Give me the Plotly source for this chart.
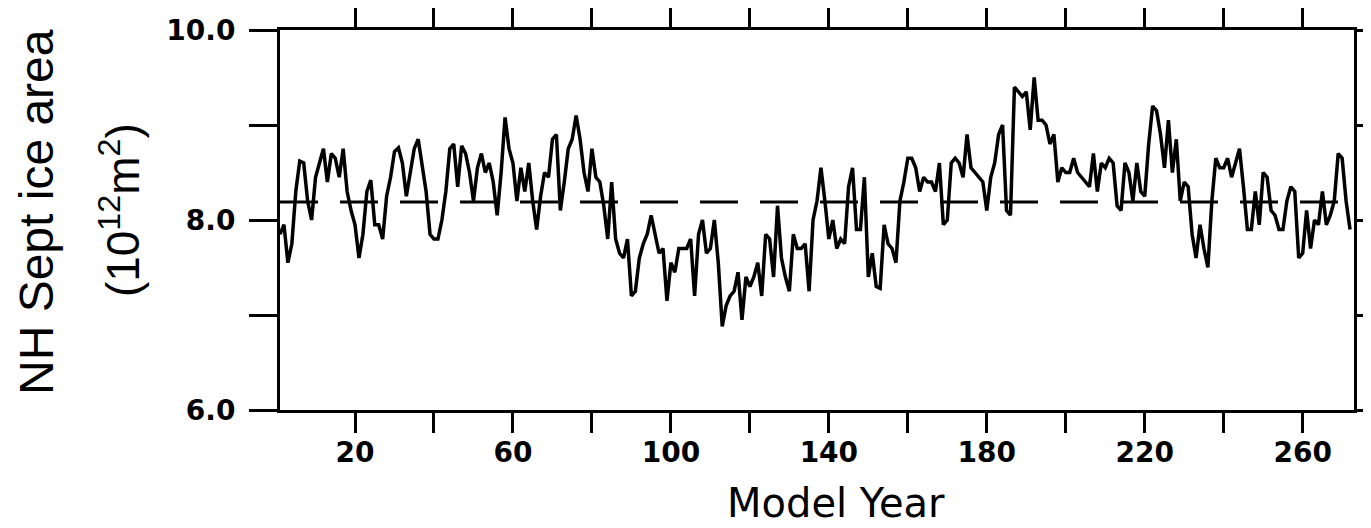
import plotly.graph_objects as go

# Model years and NH September ice area (10^12 m^2)
YEARS = list(range(1, 273))
ICE_AREA = [
    7.85, 7.95, 7.55, 7.75, 8.3, 8.62, 8.6, 8.2, 8.0, 8.45,
    8.6, 8.75, 8.4, 8.7, 8.65, 8.45, 8.75, 8.3, 8.1, 7.95,
    7.6, 7.85, 8.3, 8.42, 7.95, 7.95, 7.8, 8.25, 8.45, 8.72,
    8.76, 8.6, 8.25, 8.5, 8.75, 8.85, 8.55, 8.3, 7.85, 7.8,
    7.8, 8.0, 8.3, 8.75, 8.8, 8.35, 8.78, 8.7, 8.5, 8.2,
    8.55, 8.7, 8.5, 8.6, 8.4, 8.05, 8.5, 9.08, 8.75, 8.6,
    8.2, 8.55, 8.3, 8.6, 8.2, 7.9, 8.25, 8.5, 8.45, 8.85,
    8.9, 8.1, 8.4, 8.75, 8.85, 9.1, 8.85, 8.5, 8.3, 8.75,
    8.45, 8.4, 8.15, 7.8, 8.4, 7.8, 7.65, 7.6, 7.8, 7.2,
    7.25, 7.6, 7.75, 7.85, 8.05, 7.85, 7.65, 7.7, 7.15, 7.55,
    7.45, 7.7, 7.7, 7.7, 7.8, 7.2, 7.85, 8.0, 7.65, 7.7,
    8.0, 7.55, 6.88, 7.1, 7.2, 7.25, 7.45, 6.95, 7.4, 7.3,
    7.4, 7.55, 7.2, 7.85, 7.8, 7.4, 8.15, 7.6, 7.4, 7.25,
    7.85, 7.7, 7.7, 7.75, 7.25, 8.0, 8.2, 8.55, 8.2, 7.8,
    8.0, 7.7, 7.8, 7.75, 8.35, 8.55, 7.9, 7.9, 8.45, 7.4,
    7.65, 7.3, 7.28, 7.95, 7.75, 7.7, 7.55, 8.2, 8.4, 8.65,
    8.65, 8.55, 8.3, 8.45, 8.4, 8.4, 8.3, 8.6, 7.95, 8.0,
    8.6, 8.65, 8.6, 8.45, 8.9, 8.55, 8.5, 8.45, 8.4, 8.1,
    8.45, 8.6, 8.9, 9.0, 8.1, 8.05, 9.4, 9.35, 9.3, 9.35,
    8.95, 9.5, 9.05, 9.05, 9.0, 8.8, 8.9, 8.4, 8.55, 8.5,
    8.5, 8.65, 8.5, 8.45, 8.4, 8.35, 8.7, 8.3, 8.6, 8.55,
    8.65, 8.6, 8.15, 8.1, 8.6, 8.5, 8.2, 8.6, 8.3, 8.25,
    8.8, 9.2, 9.15, 8.9, 8.55, 9.05, 8.5, 8.85, 8.2, 8.4,
    8.35, 7.85, 7.6, 7.95, 7.7, 7.5, 8.2, 8.65, 8.55, 8.55,
    8.65, 8.45, 8.6, 8.75, 8.35, 7.9, 7.9, 8.3, 7.95, 8.5,
    8.45, 8.1, 8.05, 7.9, 7.9, 8.2, 8.35, 8.3, 7.6, 7.65,
    8.1, 7.7, 8.0, 7.95, 8.3, 7.95, 8.05, 8.2, 8.7, 8.65,
    8.2, 7.9,
]
MEAN_AREA = 8.19

X_TICKS = [20, 40, 60, 80, 100, 120, 140, 160, 180, 200, 220, 240, 260]
X_TICK_TEXT = ["20", "", "60", "", "100", "", "140", "", "180", "", "220", "", "260"]
Y_TICKS = [6, 7, 8, 9, 10]
Y_TICK_TEXT = ["6.0", "", "8.0", "", "10.0"]

fig = go.Figure()
fig.add_trace(go.Scatter(
    x=YEARS, y=ICE_AREA, mode="lines",
    line=dict(color="black", width=3.5),
    showlegend=False, hoverinfo="skip",
))
fig.add_hline(y=MEAN_AREA, line=dict(color="black", width=3, dash="38px,22px"))

tick_font = dict(family="DejaVu Sans", size=28, color="black", weight="bold")

fig.update_xaxes(
    range=[1, 273], tickvals=X_TICKS, ticktext=X_TICK_TEXT,
    ticks="outside", ticklen=20, tickwidth=3, tickcolor="black",
    showline=True, linewidth=3, linecolor="black", mirror="allticks",
    showgrid=False, zeroline=False, tickfont=tick_font,
    ticklabelstandoff=-5, automargin=False,
)
fig.update_yaxes(
    range=[6, 10], tickvals=Y_TICKS, ticktext=Y_TICK_TEXT,
    ticks="outside", ticklen=28, tickwidth=3, tickcolor="black",
    showline=True, linewidth=3, linecolor="black", mirror="allticks",
    showgrid=False, zeroline=False, tickfont=tick_font,
    ticklabelstandoff=8, automargin=False,
)

fig.add_annotation(
    text="NH Sept ice area", textangle=-90, showarrow=False,
    xref="paper", yref="paper", x=0, y=0.521, xshift=-244,
    xanchor="center", yanchor="middle",
    font=dict(family="Liberation Sans", size=48, color="black"),
)
fig.add_annotation(
    text="(10<sup>12</sup>m<sup>2</sup>)", textangle=-90, showarrow=False,
    xref="paper", yref="paper", x=0, y=0.526, xshift=-160,
    xanchor="center", yanchor="middle",
    font=dict(family="Liberation Sans", size=46, color="black"),
)
fig.add_annotation(
    text="Model Year", showarrow=False,
    xref="paper", yref="paper", x=(836 - 280) / 1074, y=0, yshift=-93,
    xanchor="center", yanchor="middle",
    font=dict(family="DejaVu Sans", size=40, color="black"),
)

# The page body adds an 8 px offset, so margins are trimmed on the left/top.
fig.update_layout(
    width=1371, height=528,
    margin=dict(l=272, r=25, t=22, b=126, autoexpand=False),
    paper_bgcolor="white", plot_bgcolor="white",
)

fig.write_html("out.html")
